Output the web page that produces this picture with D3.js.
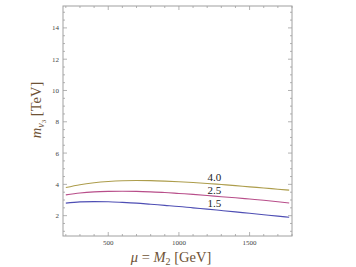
<!DOCTYPE html>
<html>
<head>
<meta charset="utf-8">
<script src="https://cdn.jsdelivr.net/npm/d3@7"></script>
<style>
  body { margin: 0; background: #fff; }
  svg text { font-family: "Liberation Serif", "DejaVu Serif", serif; }
</style>
</head>
<body>
<div id="chart"></div>
<script>
// mu = M2 values [GeV]
const mu = [200, 300, 400, 500, 600, 700, 800, 900, 1000, 1100, 1200, 1300, 1400, 1500, 1600, 1700, 1780];
// m_nu3 [TeV] for each curve
const curve40 = [3.80, 3.98, 4.10, 4.18, 4.23, 4.25, 4.24, 4.21, 4.17, 4.12, 4.06, 3.99, 3.92, 3.84, 3.77, 3.69, 3.63];
const curve25 = [3.33, 3.45, 3.52, 3.55, 3.56, 3.55, 3.52, 3.48, 3.42, 3.36, 3.29, 3.21, 3.14, 3.06, 2.98, 2.89, 2.81];
const curve15 = [2.80, 2.88, 2.90, 2.89, 2.85, 2.80, 2.73, 2.66, 2.59, 2.50, 2.42, 2.33, 2.24, 2.15, 2.06, 1.97, 1.90];
const curveLabels = ["4.0", "2.5", "1.5"];
const xTicks = [500, 1000, 1500];
const yTicks = [2, 4, 6, 8, 10, 12, 14];

const width = 356, height = 267;
const margin = { left: 63, right: 64, top: 6, bottom: 31 };

const svg = d3.select("#chart").append("svg")
    .attr("width", width)
    .attr("height", height);

const x = d3.scaleLinear().domain([180, 1800]).range([margin.left, width - margin.right]);
const y = d3.scaleLinear().domain([0.7, 15.4]).range([height - margin.bottom, margin.top]);

const frameColor = "#a0a0a0";
const x0 = x.range()[0], x1 = x.range()[1];
const y0 = y.range()[0], y1 = y.range()[1];

// frame
svg.append("rect")
    .attr("x", x0).attr("y", y1)
    .attr("width", x1 - x0).attr("height", y0 - y1)
    .attr("fill", "none").attr("stroke", frameColor).attr("stroke-width", 1);

// ticks on all four sides, pointing inward
const xMinor = d3.range(200, 1800.1, 100);
const yMinor = d3.range(1, 15.01, 0.5);
const ticks = svg.append("g").attr("stroke", frameColor).attr("stroke-width", 0.8);
xMinor.forEach(v => {
    const len = (v % 500 === 0) ? 4 : 2;
    ticks.append("line").attr("x1", x(v)).attr("x2", x(v)).attr("y1", y0).attr("y2", y0 - len);
    ticks.append("line").attr("x1", x(v)).attr("x2", x(v)).attr("y1", y1).attr("y2", y1 + len);
});
yMinor.forEach(v => {
    const len = (v % 2 === 0) ? 4 : 2;
    ticks.append("line").attr("x1", x0).attr("x2", x0 + len).attr("y1", y(v)).attr("y2", y(v));
    ticks.append("line").attr("x1", x1).attr("x2", x1 - len).attr("y1", y(v)).attr("y2", y(v));
});

// tick labels
svg.append("g").selectAll("text").data(xTicks).join("text")
    .attr("x", d => x(d)).attr("y", y0 + 9)
    .attr("text-anchor", "middle")
    .attr("font-size", 7).attr("fill", "#444")
    .text(d => d);
svg.append("g").selectAll("text").data(yTicks).join("text")
    .attr("x", x0 - 4).attr("y", d => y(d) + 2.5)
    .attr("text-anchor", "end")
    .attr("font-size", 7).attr("fill", "#444")
    .text(d => d);

// curves
const series = [
    { vals: curve40, color: "#ad9d4c" },
    { vals: curve25, color: "#b84e8a" },
    { vals: curve15, color: "#4e4eb4" }
];
const line = d3.line().curve(d3.curveMonotoneX)
    .x((d, i) => x(mu[i]))
    .y(d => y(d));
series.forEach(s => {
    svg.append("path")
        .datum(s.vals)
        .attr("d", line)
        .attr("fill", "none")
        .attr("stroke", s.color)
        .attr("stroke-width", 1.1);
});

// curve labels near mu = 1250
const labelMu = 1250;
series.forEach((s, i) => {
    const v = d3.scaleLinear().domain(mu).range(s.vals)(labelMu);
    svg.append("text")
        .attr("x", x(labelMu)).attr("y", y(v) - 2.5)
        .attr("text-anchor", "middle")
        .attr("font-size", 11).attr("fill", "#222")
        .text(curveLabels[i]);
});

// axis labels
const labelColor = "#6e5235";
const xl = svg.append("text")
    .attr("x", 171).attr("y", 262)
    .attr("text-anchor", "middle")
    .attr("font-size", 14.5).attr("fill", labelColor);
xl.append("tspan").attr("font-style", "italic").text("μ");
xl.append("tspan").text(" = ");
xl.append("tspan").attr("font-style", "italic").text("M");
xl.append("tspan").attr("font-size", 10).attr("dy", 3).text("2");
xl.append("tspan").attr("dy", -3).text(" [GeV]");

const yl = svg.append("text")
    .attr("transform", "translate(41,110) rotate(-90)")
    .attr("text-anchor", "middle")
    .attr("font-size", 14.5).attr("fill", labelColor);
yl.append("tspan").attr("font-style", "italic").text("m");
yl.append("tspan").attr("font-style", "italic").attr("font-size", 10).attr("dy", 3).text("ν");
yl.append("tspan").attr("font-size", 7).attr("dy", 1.5).text("3");
yl.append("tspan").attr("dy", -4.5).text(" [TeV]");
</script>
</body>
</html>
